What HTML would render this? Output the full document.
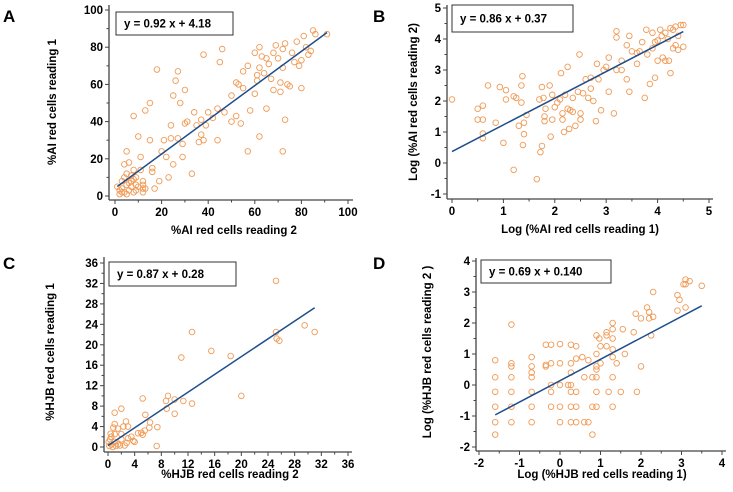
<!DOCTYPE html>
<html><head><meta charset="utf-8"><style>
html,body{margin:0;padding:0;background:#fff;}
svg{display:block;font-family:"Liberation Sans",Arial,sans-serif;font-weight:bold;}
</style></head><body>
<svg id="fig" width="733" height="492" viewBox="0 0 733 492"></svg>
<script>
const aX=[1,2,3,3,4,4,5,5,5,6,6,7,7,8,8,8,9,9,10,11,11,12,12,12,13,15,15,16,16,17,18,19,20,21,22,23,24,24,25,25,26,27,27,28,29,29,30,30,31,33,34,35,36,37,37,38,38,39,40,42,44,44,45,46,47,50,50,52,52,53,54,55,55,57,57,58,60,60,61,61,62,62,62,63,64,65,65,66,67,68,68,69,70,71,71,72,72,72,73,73,74,75,76,77,78,79,80,80,81,82,83,84,85,86,91,2,3,4,5,6,7,8,9,10,12,13];
const aY=[5,3,8,2,10,17,24,12,6,3,18,8,5,14,2,43,10,6,32,21,14,8,4,2,46,50,30,13,15,4,68,8,24,30,21,10,38,31,17,54,62,67,31,50,21,28,57,39,40,12,45,38,29,33,41,76,30,38,45,42,47,30,72,79,45,54,40,61,43,60,39,67,58,70,24,46,77,55,62,65,69,32,80,75,66,47,74,71,63,57,77,81,74,56,61,69,79,24,82,41,60,59,77,72,83,70,58,73,86,80,76,78,89,87,87,1,4,2,1,7,11,9,3,5,6,4];
const bX=[0,0.5,0.5,0.6,0.6,0.6,0.6,0.7,0.85,0.93,1,1.05,1.05,1.2,1.2,1.25,1.3,1.35,1.35,1.37,1.38,1.4,1.4,1.45,1.65,1.7,1.72,1.75,1.75,1.78,1.8,1.8,1.82,1.9,1.92,1.95,1.95,2,2.05,2.1,2.12,2.15,2.15,2.18,2.2,2.25,2.25,2.28,2.3,2.35,2.35,2.4,2.45,2.48,2.5,2.5,2.55,2.6,2.65,2.7,2.7,2.75,2.8,2.82,2.85,2.9,2.95,3,3.05,3.05,3.15,3.2,3.2,3.2,3.3,3.4,3.4,3.45,3.45,3.5,3.6,3.65,3.7,3.75,3.78,3.8,3.85,3.9,3.9,3.95,4,4,4.05,4.08,4.1,4.15,4.15,4.2,4.22,4.25,4.3,4.3,4.35,4.35,4.4,4.45,4.5,4.5,4.25,4.4,3.95,3.6,3.3];
const bY=[2.05,1.75,1.4,1.85,1.4,0.95,0.8,2.5,1.3,2.45,0.65,2.35,2.05,2.15,-0.22,2.1,1.2,1.95,2.5,2.8,0.58,1.3,0.93,1.55,-0.52,2.05,0.35,2.45,0.55,2.1,1.5,1.35,1.75,2.5,0.85,1.4,2.2,1.8,1.95,2.05,2.9,1.6,1.4,1,2.2,1.75,3.1,1.1,1.7,2.1,1.65,1.2,2.3,3.5,1.6,1.4,2.25,2.7,2.1,2.4,2.75,2,1.35,3.2,2.7,1.7,3,3.1,2.3,3.4,1.6,4.25,4.05,3,3.3,2.7,3.8,2.3,4.1,3.6,3.2,3.6,3.9,2.1,4.3,3.5,2.55,3.7,4.2,2.75,3.3,3.95,4.3,4.1,3.4,3.3,4.2,4,3.3,2.9,4.3,3.7,4.4,3.8,4.1,4.45,4.45,3.75,4.35,3.65,3.9,3.55,3];
const cX=[25.2,12.6,25.2,31,29.5,25.3,25.7,15.5,18.4,11,20,5.2,9,10,8.7,11.3,12.6,8.8,10,5.6,6.3,2,1,7.4,6.2,7.3,5.5,5,4.5,3.8,4,2.7,1,1.5,2.3,3,3.5,2,1,0.5,0.3,0.5,1,1.5,2,2.5,0.2,0.1,0.7,1.2,3,2.8,0.8,1.8,0.4,5.2];
const cY=[32.5,22.5,22.5,22.5,23.8,21.2,20.8,18.8,17.8,17.5,10,9.5,10,9.3,9,9,8.5,7.5,6.5,6.3,4.8,7.5,6.7,3.9,3.8,0.2,3.2,2.8,2.7,1.2,1,5,4.5,3.6,4,4,2,2.5,2.5,2,1.5,0.5,1,0.5,1.5,0.3,0.2,1,0,0.2,1.7,0.8,3.8,0.3,2.6,2.4];
const dX=[-1.6,-1.6,-1.6,-1.6,-1.6,-1.6,-1.2,-1.2,-1.2,-1.2,-1.2,-1.2,-1.2,-0.7,-0.7,-0.7,-0.7,-0.7,-0.7,-0.7,-0.35,-0.35,-0.35,-0.22,-0.22,-0.22,-0.22,-0.22,0,0,0,0,0,0.2,0.27,0.27,0.27,0.27,0.27,0.27,0.27,0.4,0.4,0.4,0.4,0.4,0.55,0.6,0.6,0.7,0.7,0.8,0.8,0.8,0.9,0.9,0.9,0.9,0.9,0.9,0.9,0.97,1,1,1.15,1.15,1.15,1.2,1.3,1.3,1.3,1.3,1.3,1.3,1.3,1.4,1.5,1.55,1.6,1.82,1.87,1.9,2,2,2.15,2.2,2.2,2.25,2.3,2.3,2.9,2.9,2.95,3.05,3.1,3.1,3.1,3.2,3.5];
const dY=[0.8,0.25,-0.22,-0.7,-1.2,-1.6,1.95,0.7,0.6,0.25,-0.22,-0.7,-1.2,0.9,0.6,0.4,0.25,-0.22,-0.7,-1.2,1.3,0.6,0.65,1.3,0.7,0,-0.22,-0.7,1.32,0.7,0,-0.7,-1.2,0,1.3,0.7,0.4,0,-0.22,-0.7,-1.2,1.25,0.85,-0.22,-0.7,-1.2,0.9,0.25,-1.2,0.8,-1.2,0.25,-0.7,-1.6,1.6,1,0.6,0.5,0.25,-0.22,-0.7,1.5,1.25,0.7,1.7,1.6,1.25,-0.22,2,1.8,1.5,1.15,0.9,0.25,-0.7,0.7,-0.22,1.8,1,1.7,2.3,-0.22,2.15,0.6,2.5,2.35,2.15,1.6,2.2,3,2.4,2.9,2.75,3.25,3.4,3.25,2.5,3.35,3.2];
const aTicks=[0,20,40,60,80,100], bXT=[0,1,2,3,4,5], bYT=[-1,0,1,2,3,4,5];
const cTicks=[0,4,8,12,16,20,24,28,32,36], dTicks=[-2,-1,0,1,2,3,4];
const fits=[[0.92,4.18],[0.86,0.37],[0.87,0.28],[0.69,0.140]];
const NS='http://www.w3.org/2000/svg', svg=document.getElementById('fig');
function mk(t,a,p){const e=document.createElementNS(NS,t);for(const k in a)e.setAttribute(k,a[k]);(p||svg).appendChild(e);return e;}
function panel(o){
 const g=mk('g',{});
 
 
 const sx=v=>o.x0+(v-o.xd[0])/(o.xd[1]-o.xd[0])*(o.x1-o.x0);
 const sy=v=>o.y0+(v-o.yd[0])/(o.yd[1]-o.yd[0])*(o.y1-o.y0);
 const ax=mk('line',{x1:o.axX,y1:o.axTop,x2:o.axX,y2:o.axY,stroke:'#444','stroke-width':1.3},g);
 
 const ay=mk('line',{x1:o.axX,y1:o.axY,x2:o.axRight,y2:o.axY,stroke:'#444','stroke-width':1.3},g);
 
 o.xt.forEach((v,i)=>{const X=sx(v);mk('line',{x1:X,y1:o.axY,x2:X,y2:o.axY+4,stroke:'#444'},g);
  if(i<o.xt.length-1){const m=sx((v+o.xt[i+1])/2);mk('line',{x1:m,y1:o.axY,x2:m,y2:o.axY+2.5,stroke:'#444'},g);}
  const t=mk('text',{x:X,y:o.axY+16,'text-anchor':'middle','font-size':11.5},g);t.textContent=v;
  });
 o.yt.forEach((v,i)=>{const Y=sy(v);mk('line',{x1:o.axX-4,y1:Y,x2:o.axX,y2:Y,stroke:'#444'},g);
  if(i<o.yt.length-1){const m=sy((v+o.yt[i+1])/2);mk('line',{x1:o.axX-2.5,y1:m,x2:o.axX,y2:m,stroke:'#444'},g);}
  const t=mk('text',{x:o.axX-6,y:Y+4,'text-anchor':'end','font-size':11.5},g);t.textContent=v;
  });
 o.xs.forEach((v,i)=>{const c=mk('circle',{cx:sx(v),cy:sy(o.ys[i]),r:2.8,fill:'none',stroke:'#f09a55','stroke-width':0.9},g);
  });
 const [m,b]=o.fit;
 const l=mk('line',{x1:sx(o.lx[0]),y1:sy(m*o.lx[0]+b),x2:sx(o.lx[1]),y2:sy(m*o.lx[1]+b),stroke:'#1f4e8c','stroke-width':1.5},g);
 
 const bx=mk('rect',{x:o.box[0],y:o.box[1],width:o.box[2],height:o.box[3],fill:'#fff',stroke:'#333','stroke-width':1},g);
 
 const eq=mk('text',{x:o.box[0]+8,y:o.box[1]+o.box[3]/2+4,'font-size':11.5,'xml:space':'preserve'},g);eq.textContent=o.eq;
 
 const xt=mk('text',{x:o.xtp[0],y:o.xtp[1],'text-anchor':'middle','font-size':11.5},g);xt.textContent=o.xtitle;
 
 const yt=mk('text',{x:0,y:0,'text-anchor':'middle','font-size':11.5,transform:`translate(${o.ytp[0]},${o.ytp[1]}) rotate(-90)`},g);yt.textContent=o.ytitle;
 
 const lt=mk('text',{x:o.let[0],y:o.let[1],'font-size':17},g);lt.textContent=o.letter;
 
}
panel({name:'panel-a',letter:'A',let:[3,22],xs:aX,ys:aY,xd:[0,100],x0:115,x1:348,yd:[0,100],y0:196,y1:10,
 axX:109,axY:200,axTop:5,axRight:353,xt:aTicks,yt:aTicks,fit:fits[0],lx:[1,91],box:[116,12,117,23],
 eq:'y = 0.92 x + 4.18',xtitle:'%AI red cells reading 2',xtp:[234,234],ytitle:'%AI red cells reading 1',ytp:[56,102]});
panel({name:'panel-b',letter:'B',let:[373,22],xs:bX,ys:bY,xd:[0,5],x0:452,x1:709,yd:[-1,5],y0:194,y1:8,
 axX:447,axY:199,axTop:5,axRight:713,xt:bXT,yt:bYT,fit:fits[1],lx:[0,4.5],box:[452,5,121,27],
 eq:'y = 0.86 x  + 0.37',xtitle:'Log (%AI red cells reading 1)',xtp:[580,233],ytitle:'Log (%AI red cells reading 2)',ytp:[417,102]});
panel({name:'panel-c',letter:'C',let:[3,269],xs:cX,ys:cY,xd:[0,36],x0:108,x1:348,yd:[0,36],y0:447,y1:263,
 axX:104,axY:452,axTop:257,axRight:352,xt:cTicks,yt:cTicks,fit:fits[2],lx:[0,31],box:[109,262,127,24],
 eq:'y = 0.87  x  + 0.28',xtitle:'%HJB red cells reading 2',xtp:[230,478],ytitle:'%HJB red cells reading 1',ytp:[54,352]});
panel({name:'panel-d',letter:'D',let:[373,269],xs:dX,ys:dY,xd:[-2,4],x0:479,x1:722,yd:[-2,4],y0:447,y1:261,
 axX:476,axY:451,axTop:258,axRight:726,xt:dTicks,yt:dTicks,fit:fits[3],lx:[-1.6,3.5],box:[481,260,130,23],
 eq:'y = 0.69 x  + 0.140',xtitle:'Log (%HJB red cells reading 1)',xtp:[602,478],ytitle:'Log (%HJB red cells reading 2 )',ytp:[431,352]});
</script>
</body></html>
